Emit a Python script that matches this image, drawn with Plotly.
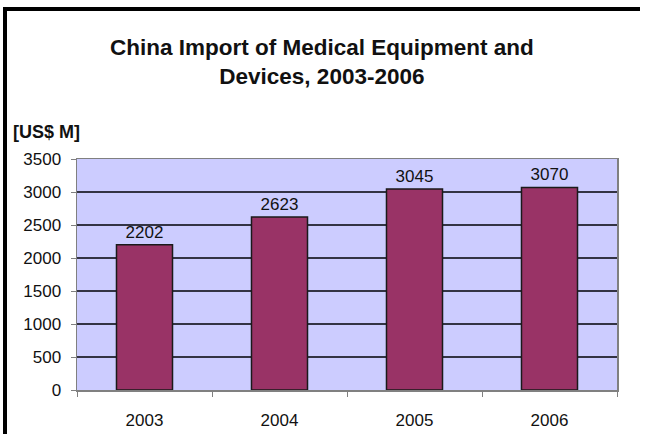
import plotly.graph_objects as go

years = ["2003", "2004", "2005", "2006"]
imports = [2202, 2623, 3045, 3070]
y_ticks = [0, 500, 1000, 1500, 2000, 2500, 3000, 3500]

title_text = "China Import of Medical Equipment and<br>Devices, 2003-2006"
unit_text = "[US$ M]"

W, H = 646, 434
L, R, T, B = 77, 29, 159, 44
pw, ph = W - L - R, H - T - B

def px_x(p):
    return (p - L) / pw

def px_y(p):
    return (H - B - p) / ph

FONT = "Liberation Sans, Arial, sans-serif"
TXT = "#111111"

fig = go.Figure()
fig.add_trace(go.Bar(
    x=years, y=imports,
    text=[str(v) for v in imports],
    textposition="outside",
    textfont=dict(family=FONT, size=17, color=TXT),
    marker=dict(color="#993366", line=dict(color="#1a1a1a", width=1.5)),
    width=0.415,
    cliponaxis=False,
    hoverinfo="skip",
))

fig.update_layout(
    width=W, height=H,
    margin=dict(l=L, r=R, t=T, b=B, autoexpand=False),
    paper_bgcolor="white",
    plot_bgcolor="#CCCCFF",
    showlegend=False,
    font=dict(family=FONT, color=TXT),
    bargap=0.585,
)

fig.update_xaxes(
    type="category",
    automargin=False,
    showgrid=False,
    showline=True, linecolor="#808080", linewidth=1.5,
    ticks="outside", tickson="boundaries", ticklen=5, tickcolor="#808080",
    tickfont=dict(size=17, color=TXT),
    ticklabelstandoff=14,
    mirror=True,
)
fig.update_yaxes(
    automargin=False,
    range=[0, 3500],
    tickvals=y_ticks,
    showgrid=True, gridcolor="#333344", gridwidth=1.2,
    showline=True, linecolor="#808080", linewidth=1.5,
    ticks="outside", ticklen=5, tickcolor="#808080",
    tickfont=dict(size=17, color=TXT),
    ticklabelstandoff=6,
    mirror=True,
    zeroline=False,
)

# title
fig.add_annotation(
    text=title_text, xref="paper", yref="paper",
    x=px_x(322), y=px_y(62), xanchor="center", yanchor="middle",
    showarrow=False, align="center",
    font=dict(size=22.5, color=TXT, weight="bold"),
)

fig.add_annotation(
    text=unit_text, xref="paper", yref="paper",
    x=px_x(11), y=px_y(132), xanchor="left", yanchor="middle",
    showarrow=False,
    font=dict(size=18, color=TXT, weight="bold"),
)

# black frame lines (top and left) drawn as thin filled rectangles
fig.add_shape(type="rect", xref="paper", yref="paper",
              x0=px_x(3), x1=px_x(W - 6), y0=px_y(11), y1=px_y(7),
              fillcolor="black", line=dict(width=0))
fig.add_shape(type="rect", xref="paper", yref="paper",
              x0=px_x(3), x1=px_x(7), y0=px_y(H), y1=px_y(7),
              fillcolor="black", line=dict(width=0))

fig.write_html("out.html", config={"displayModeBar": False, "staticPlot": True})
